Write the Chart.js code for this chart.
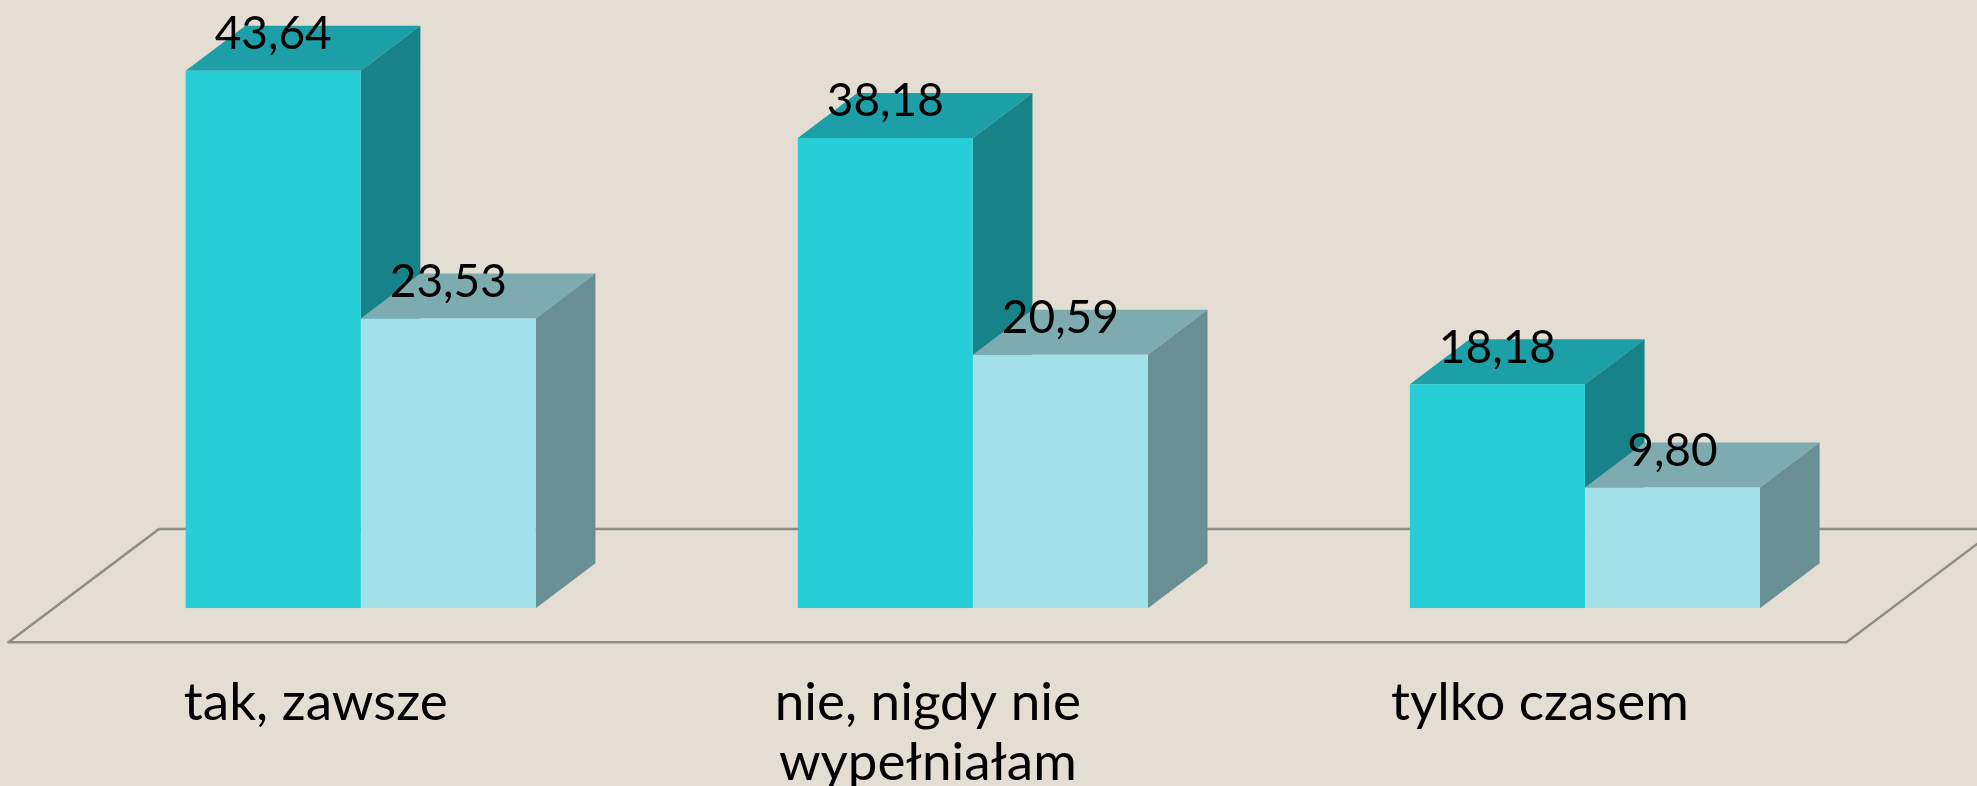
<!DOCTYPE html>
<html>
<head>
<meta charset="utf-8">
<title>Wykres</title>
<script src="https://cdn.jsdelivr.net/npm/chart.js@4/dist/chart.umd.min.js"></script>
<style>
  html, body { margin: 0; padding: 0; background: #e4ded2; overflow: hidden; }
  canvas { display: block; }
</style>
</head>
<body>
<canvas id="chart" width="1977" height="786"></canvas>
<script>
const categories = ["tak, zawsze", ["nie, nigdy nie", "wypełniałam"], "tylko czasem"];
const seriesA = [43.64, 38.18, 18.18];
const seriesB = [23.53, 20.59, 9.8];

const fontFamily = "Lato, 'Open Sans', sans-serif";
const depthX = 59.6;
const depthY = 45;

function fillPoly(ctx, points, color) {
  ctx.beginPath();
  points.forEach((p, i) => (i ? ctx.lineTo(p[0], p[1]) : ctx.moveTo(p[0], p[1])));
  ctx.closePath();
  ctx.fillStyle = color;
  ctx.fill();
}

// floor of the fake 3D plot, hung off the zero line of the y scale
const floorPlugin = {
  id: "floor",
  beforeDatasetsDraw(chart) {
    const ctx = chart.ctx;
    const base = chart.scales.y.getPixelForValue(0);
    const left = chart.scales.x.left;
    const right = chart.scales.x.right;
    ctx.save();
    ctx.strokeStyle = "#8d8d88";
    ctx.lineWidth = 2.5;
    ctx.lineJoin = "round";
    ctx.beginPath();
    ctx.moveTo(left + 104.3, base - 79.3);
    ctx.lineTo(left - 46.3, base + 34);
    ctx.lineTo(right - 44.5, base + 34);
    ctx.lineTo(right + 106, base - 79.3);
    ctx.closePath();
    ctx.stroke();
    ctx.restore();
  },
};

// top and side faces of every bar, taken from the bar elements
const facesPlugin = {
  id: "faces",
  beforeDatasetsDraw(chart) {
    const ctx = chart.ctx;
    chart.data.datasets.forEach((ds, i) => {
      chart.getDatasetMeta(i).data.forEach((bar) => {
        const l = bar.x - bar.width / 2;
        const r = bar.x + bar.width / 2;
        fillPoly(ctx, [[l, bar.y], [r, bar.y], [r + depthX, bar.y - depthY], [l + depthX, bar.y - depthY]], ds.topColor);
        fillPoly(ctx, [[r, bar.y], [r + depthX, bar.y - depthY], [r + depthX, bar.base - depthY], [r, bar.base]], ds.sideColor);
      });
    });
  },
};

const valueLabels = {
  id: "valueLabels",
  afterDatasetsDraw(chart) {
    const ctx = chart.ctx;
    ctx.save();
    ctx.font = "400 46px " + fontFamily;
    ctx.fillStyle = "#000";
    ctx.textAlign = "center";
    ctx.textBaseline = "alphabetic";
    chart.data.datasets.forEach((ds, i) => {
      chart.getDatasetMeta(i).data.forEach((bar, j) => {
        ctx.fillText(ds.data[j].toFixed(2).replace(".", ","), bar.x, bar.y - 21.5);
      });
    });
    ctx.restore();
  },
};

new Chart(document.getElementById("chart"), {
  type: "bar",
  plugins: [floorPlugin, facesPlugin, valueLabels],
  data: {
    labels: categories,
    datasets: [
      {
        label: "A",
        data: seriesA,
        backgroundColor: "#26cfd8",
        topColor: "#1c9fa7",
        sideColor: "#188289",
        categoryPercentage: 0.572,
        barPercentage: 1,
      },
      {
        label: "B",
        data: seriesB,
        backgroundColor: "#a3e1e9",
        topColor: "#7dabb0",
        sideColor: "#698f94",
        categoryPercentage: 0.572,
        barPercentage: 1,
      },
    ],
  },
  options: {
    responsive: false,
    animation: false,
    layout: { padding: { left: 54.7, right: 86, top: 53.9, bottom: 0 } },
    plugins: { legend: { display: false }, tooltip: { enabled: false } },
    scales: {
      x: {
        grid: { display: false },
        border: { display: false },
        afterFit(scale) {
          scale.height = 177.7;
        },
        ticks: {
          color: "#000",
          font: { family: fontFamily, size: 53, weight: "400", lineHeight: 1.13 },
          labelOffset: -45,
          padding: 57,
          maxRotation: 0,
          autoSkip: false,
        },
      },
      y: {
        display: false,
        min: 0,
        max: 45,
      },
    },
  },
});
</script>
</body>
</html>
